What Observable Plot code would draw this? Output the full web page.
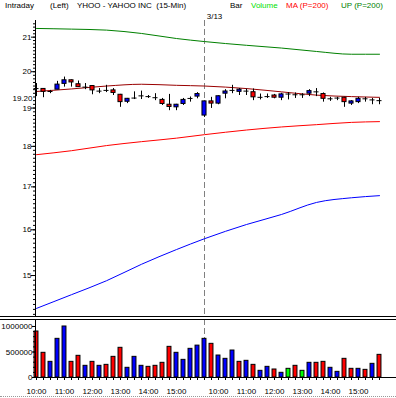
<!DOCTYPE html>
<html><head><meta charset="utf-8">
<script src="https://cdn.jsdelivr.net/npm/d3@7"></script>
<script src="https://cdn.jsdelivr.net/npm/@observablehq/plot@0.6"></script>
<style>
body{margin:0;background:#fff;}
#wrap{position:relative;width:396px;height:398px;overflow:hidden;background:#fff;font-family:"Liberation Sans",Arial,sans-serif;font-size:8px;color:#000;}
.h{position:absolute;top:0px;white-space:pre;line-height:12px;}
#price{position:absolute;left:0;top:0;}
#vol{position:absolute;left:0;top:317px;}
.sep{position:absolute;left:0;width:396px;height:1px;background:#000;}
.dot{position:absolute;left:0;top:396px;width:396px;border-top:1px dotted #999;}
</style></head><body>
<div id="wrap">
  <div id="price"></div>
  <div id="vol"></div>
  <div class="sep" style="top:316px"></div>
  <div class="sep" style="top:319px"></div>
  <div class="dot"></div>
  <span class="h" style="left:5px">Intraday</span>
  <span class="h" style="left:50px">(Left)</span>
  <span class="h" style="left:77px">YHOO - YAHOO INC  (15-Min)</span>
  <span class="h" style="left:230px">Bar</span>
  <span class="h" style="left:251px;color:#00E000">Volume</span>
  <span class="h" style="left:286px;color:#FF0000">MA (P=200)</span>
  <span class="h" style="left:341px;color:#008000">UP (P=200)</span>
</div>
<script>
// ---- data (15-min bars, 3/12 10:00 .. 3/13 15:45) ----
const open  = [19.53,19.52,19.45,19.50,19.66,19.76,19.65,19.57,19.60,19.46,19.48,19.48,19.36,19.17,19.27,19.33,19.31,19.28,19.22,19.09,19.02,19.11,19.26,19.31,
               18.80,19.18,19.12,19.39,19.48,19.44,19.46,19.43,19.29,19.31,19.34,19.28,19.38,19.36,19.36,19.39,19.44,19.38,19.25,19.27,19.28,19.12,19.16,19.25,19.22,19.20];
const high  = [19.67,19.53,19.48,19.73,19.85,19.77,19.74,19.67,19.61,19.53,19.62,19.53,19.37,19.26,19.44,19.46,19.34,19.39,19.26,19.37,19.10,19.26,19.30,19.42,
               19.19,19.29,19.33,19.50,19.62,19.53,19.52,19.52,19.38,19.38,19.37,19.40,19.42,19.41,19.39,19.50,19.53,19.41,19.29,19.29,19.29,19.20,19.29,19.29,19.26,19.26];
const low   = [19.31,19.28,19.39,19.50,19.57,19.57,19.56,19.50,19.36,19.39,19.42,19.34,19.02,19.12,19.23,19.23,19.26,19.20,19.07,18.93,18.93,19.07,19.16,19.25,
               18.75,18.99,19.09,19.25,19.39,19.34,19.34,19.20,19.22,19.26,19.25,19.20,19.22,19.26,19.26,19.31,19.31,19.16,19.18,19.20,19.02,19.07,19.12,19.16,19.09,19.09];
const close = [19.53,19.44,19.45,19.64,19.76,19.70,19.57,19.57,19.48,19.46,19.48,19.41,19.16,19.25,19.27,19.33,19.31,19.28,19.11,19.03,19.09,19.22,19.26,19.38,
               19.18,19.12,19.32,19.45,19.48,19.50,19.46,19.29,19.29,19.31,19.28,19.37,19.38,19.36,19.36,19.46,19.44,19.25,19.25,19.27,19.16,19.18,19.25,19.25,19.22,19.20];
const volume = [902000,484000,307000,758000,1000000,307000,425000,229000,307000,229000,248000,405000,582000,190000,405000,229000,209000,229000,288000,601000,484000,346000,562000,625000,
                758000,660000,431000,366000,529000,307000,327000,248000,131000,209000,157000,92000,170000,229000,131000,288000,288000,307000,190000,111000,366000,170000,170000,150000,268000,444000];
const volDir = ["dn","dn","up","up","up","dn","dn","up","dn","up","dn","dn","dn","up","up","up","dn","dn","dn","dn","up","up","up","up",
                "up","dn","up","up","up","dn","up","dn","up","up","dn","up","eq","dn","eq","up","dn","dn","up","up","dn","dn","up","dn","up","dn"];
// indicator lines, read at these bar indices
const lineIdx  = [0,5,10,15,20,24,30,35,40,45,49];
const upBand   = [21.26,21.24,21.21,21.11,20.96,20.87,20.76,20.68,20.58,20.50,20.50];
const maLine   = [19.45,19.52,19.60,19.65,19.62,19.60,19.53,19.44,19.35,19.31,19.29];
const redLine  = [17.79,17.89,18.02,18.12,18.21,18.30,18.42,18.50,18.56,18.62,18.64];
const blueLine = [14.32,14.60,14.89,15.24,15.56,15.80,16.12,16.35,16.63,16.74,16.79];
// axes
const timeIdx    = [0,4,8,12,16,20,26,30,34,38,42,46];
const timeLabels = ["10:00","11:00","12:00","13:00","14:00","15:00","10:00","11:00","12:00","13:00","14:00","15:00"];
const priceTicks = [15,16,17,18,19,20,21];
const volTicks   = [0,500000,1000000];
const dayStart = 24, dayLabel = "3/13";

const bars = open.map((o,i)=>({i,o,h:high[i],l:low[i],c:close[i],v:volume[i],d:volDir[i]}));
const upBars = bars.filter(d=>d.c>d.o), dnBars = bars.filter(d=>d.c<d.o), flatBars = bars.filter(d=>d.c===d.o);
const xDomain = [-1/7, 360/7];
const yDomain = [14.157, 21.5];
const vDomain = [0, 1137000];
const minorP = d3.range(142, 215).map(d=>d/10);
const minorV = d3.range(0, 11).map(d=>d*100000);
const volColor = {up:"#0000FF", dn:"#FF0000", eq:"#00FF00"};
const st = {fontFamily:"Liberation Sans, Arial, sans-serif", fontSize:"8px", background:"white", color:"black", overflow:"visible"};

const price = Plot.plot({
  width:396, height:317, marginTop:20, marginBottom:1, marginLeft:35, marginRight:0,
  style: st,
  x:{domain:xDomain, axis:null},
  y:{type:"log", domain:yDomain, label:null},
  marks:[
    Plot.ruleX([dayStart], {stroke:"#808080", strokeDasharray:"6,3"}),
    Plot.line(lineIdx, {x:d=>d, y:(d,k)=>upBand[k], stroke:"#008000", strokeWidth:1, curve:"monotone-x"}),
    Plot.line(lineIdx, {x:d=>d, y:(d,k)=>maLine[k], stroke:"#990000", strokeWidth:1, curve:"monotone-x"}),
    Plot.line(lineIdx, {x:d=>d, y:(d,k)=>redLine[k], stroke:"#FF0000", strokeWidth:1, curve:"monotone-x"}),
    Plot.line(lineIdx, {x:d=>d, y:(d,k)=>blueLine[k], stroke:"#0000FF", strokeWidth:1, curve:"monotone-x"}),
    Plot.ruleX(bars, {x:"i", y1:"l", y2:"h", stroke:"black"}),
    Plot.rect(upBars, {x1:d=>d.i-0.29, x2:d=>d.i+0.29, y1:"o", y2:"c", fill:"#0000FF", stroke:"black"}),
    Plot.rect(dnBars, {x1:d=>d.i-0.29, x2:d=>d.i+0.29, y1:"o", y2:"c", fill:"#FF0000", stroke:"black"}),
    Plot.ruleY(flatBars, {x1:d=>d.i-0.36, x2:d=>d.i+0.36, y:"c", stroke:"black"}),
    Plot.ruleX([xDomain[0]], {stroke:"black"}),
    Plot.axisY({ticks:minorP, tickSize:2, tickFormat:()=>"", label:null}),
    Plot.axisY({ticks:priceTicks, tickSize:4, tickPadding:0, tickFormat:d=>String(d), label:null}),
    Plot.text([close[close.length-1]], {x:xDomain[0], y:d=>d, text:d=>d.toFixed(2), textAnchor:"end", dx:-3, dy:-2}),
    Plot.text([dayLabel], {x:dayStart, text:d=>d, frameAnchor:"top", lineAnchor:"bottom", dy:-2, dx:10})
  ]
});
document.getElementById("price").appendChild(price);

const vol = Plot.plot({
  width:396, height:81, marginTop:2, marginBottom:21, marginLeft:35, marginRight:0,
  style: st,
  x:{domain:xDomain, label:null},
  y:{domain:vDomain, label:null},
  marks:[
    Plot.ruleX([dayStart], {stroke:"#808080", strokeDasharray:"6,3"}),
    Plot.rectY(bars, {x1:d=>d.i-0.28, x2:d=>d.i+0.28, y:"v", fill:d=>volColor[d.d], stroke:"black"}),
    Plot.ruleY([0], {stroke:"black"}),
    Plot.ruleX([xDomain[0]], {stroke:"black"}),
    Plot.axisX({ticks:bars.map(d=>d.i), tickSize:3, tickFormat:()=>"", label:null}),
    Plot.axisX({ticks:timeIdx, tickSize:3, tickPadding:8, tickFormat:d=>timeLabels[timeIdx.indexOf(d)], label:null}),
    Plot.axisY({ticks:minorV, tickSize:2, tickFormat:()=>"", label:null}),
    Plot.axisY({ticks:volTicks, tickSize:3, tickPadding:0, tickFormat:d3.format("d"), label:null})
  ]
});
document.getElementById("vol").appendChild(vol);
</script>
</body></html>
